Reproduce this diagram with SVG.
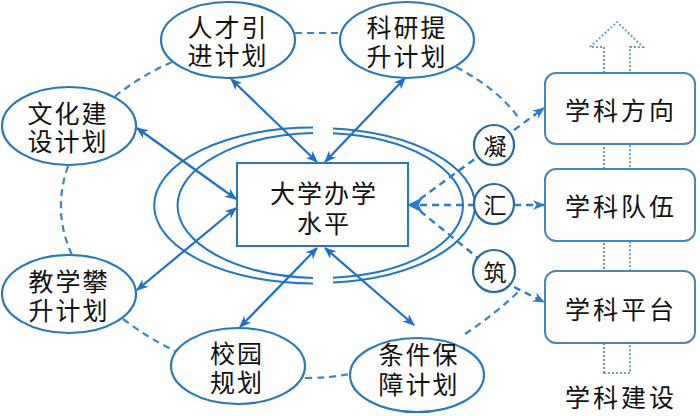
<svg xmlns="http://www.w3.org/2000/svg" width="700" height="416" viewBox="0 0 700 416">
<defs>
<style>
text{font-family:"Noto Sans CJK SC","Noto Sans CJK JP",sans-serif;font-size:25px;fill:#111;text-anchor:middle;dominant-baseline:central;letter-spacing:2px}
.node{fill:#fff;stroke:#2a78b4;stroke-width:2.2}
.ring{fill:none;stroke:#2275c0;stroke-width:2}
.sol{fill:none;stroke:#1e6fc6;stroke-width:2.2;marker-start:url(#ah);marker-end:url(#ah)}
.dash{fill:none;stroke:#3d84c2;stroke-width:2.2;stroke-dasharray:7 5}
.darr{fill:none;stroke:#2a7ccc;stroke-width:2.4;stroke-dasharray:7 5;marker-end:url(#ah2)}
.dl{fill:none;stroke:#2a7ccc;stroke-width:2.4;stroke-dasharray:7 5}
.dot{fill:none;stroke:#6a9cc4;stroke-width:2;stroke-dasharray:2 2}
.box{fill:#fff;stroke:#4a86b8;stroke-width:2}
</style>
<marker id="ah" viewBox="0 0 12 10" refX="11" refY="5" markerWidth="12" markerHeight="10" markerUnits="userSpaceOnUse" orient="auto-start-reverse">
<path d="M0,0 L12,5 L0,10 L3.5,5 Z" fill="#1e6fc6"/>
</marker>
<marker id="ah2" viewBox="0 0 12 10" refX="11" refY="5" markerWidth="12" markerHeight="10" markerUnits="userSpaceOnUse" orient="auto">
<path d="M0,0 L12,5 L0,10 L3.5,5 Z" fill="#2a7ccc"/>
</marker>
</defs>
<rect width="700" height="416" fill="#fff"/>

<g id="discipline-arrow">
<path class="dot" d="M604,373 L604,47 L590,47 L617,22 L643,47 L630,47 L630,373 Z"/>
</g>

<g id="connectors">
<path class="dash" d="M295,33 L340,33"/>
<path class="dash" d="M172,62 Q140,76 113,98"/>
<path class="dash" d="M68,166 Q52,212 72,255"/>
<path class="dash" d="M123,319 Q148,338 175,351"/>
<path class="dash" d="M305,378 Q330,378 350,374"/>
<path class="dash" d="M465,334 Q498,312 520,290"/>
<path class="dash" d="M456,67 Q500,90 520,120"/>

<path class="ring" d="M313,127.6 A158,77.5 0 0 0 313,283.4"/>
<path class="ring" d="M333,128.4 A158,77.5 0 0 1 333,282.6"/>
<path class="ring" d="M313,133.1 A143,72.5 0 0 0 313,277.9"/>
<path class="ring" d="M333,133.3 A143,72.5 0 0 1 333,277.7"/>

<path class="sol" d="M231,79 L317,162"/>
<path class="sol" d="M405,78 L325,162"/>
<path class="sol" d="M137,128 L236,199"/>
<path class="sol" d="M137,290 L236,208"/>
<path class="sol" d="M240,327 L317,248"/>
<path class="sol" d="M414,325 L325,248"/>

<path class="dl" d="M420,199 L494,145"/>
<path class="dl" d="M420,205 L494,205"/>
<path class="dl" d="M420,211 L494,271"/>
<path d="M409,205 L421,199 L418,205 L421,211 Z" fill="#2a7ccc" stroke="#2a7ccc" stroke-width="1.5" stroke-linejoin="round"/>
<path class="darr" d="M514,130 L544,108"/>
<path class="darr" d="M514,205 L544,205"/>
<path class="darr" d="M514,287 L544,302"/>
</g>

<g id="center">
<rect class="box" x="237" y="163" width="171" height="83" style="stroke:#2a78b4"/>
<text><tspan x="324" y="192">大学办学</tspan><tspan x="324" y="222">水平</tspan></text>
</g>

<g id="n-rencai">
<ellipse class="node" cx="228" cy="40" rx="67" ry="38"/>
<text><tspan x="228" y="26">人才引</tspan><tspan x="228" y="54">进计划</tspan></text>
</g>
<g id="n-keyan">
<ellipse class="node" cx="407" cy="40" rx="67" ry="38"/>
<text><tspan x="407" y="26">科研提</tspan><tspan x="407" y="55">升计划</tspan></text>
</g>
<g id="n-wenhua">
<ellipse class="node" cx="69" cy="126" rx="67" ry="39"/>
<text><tspan x="68" y="112">文化建</tspan><tspan x="68" y="140">设计划</tspan></text>
</g>
<g id="n-jiaoxue">
<ellipse class="node" cx="69" cy="294" rx="67" ry="39"/>
<text><tspan x="69" y="280">教学攀</tspan><tspan x="69" y="309">升计划</tspan></text>
</g>
<g id="n-xiaoyuan">
<ellipse class="node" cx="238" cy="366" rx="67" ry="38"/>
<text><tspan x="237" y="352">校园</tspan><tspan x="237" y="381">规划</tspan></text>
</g>
<g id="n-tiaojian">
<ellipse class="node" cx="417" cy="375" rx="67" ry="37"/>
<text><tspan x="419" y="353">条件保</tspan><tspan x="419" y="383">障计划</tspan></text>
</g>

<g id="c-ning">
<circle class="node" cx="494" cy="145" r="20" style="stroke:#2a6a9a"/>
<text x="495" y="145" style="font-size:23px;letter-spacing:0">凝</text>
</g>
<g id="c-hui">
<circle class="node" cx="494" cy="204" r="20" style="stroke:#2a6a9a"/>
<text x="495" y="204" style="font-size:23px;letter-spacing:0">汇</text>
</g>
<g id="c-zhu">
<circle class="node" cx="494" cy="271" r="21" style="stroke:#2a6a9a"/>
<text x="495" y="271" style="font-size:23px;letter-spacing:0">筑</text>
</g>

<g id="r-fangxiang">
<rect class="box" x="545" y="73" width="150" height="71" rx="11"/>
<text x="621" y="109" style="letter-spacing:3px">学科方向</text>
</g>
<g id="r-duiwu">
<rect class="box" x="545" y="169" width="150" height="72" rx="11"/>
<text x="621" y="205" style="letter-spacing:3px">学科队伍</text>
</g>
<g id="r-pingtai">
<rect class="box" x="545" y="271" width="150" height="72" rx="11"/>
<text x="621" y="308" style="letter-spacing:3px">学科平台</text>
</g>
<text x="621" y="396" style="letter-spacing:3px">学科建设</text>
</svg>
